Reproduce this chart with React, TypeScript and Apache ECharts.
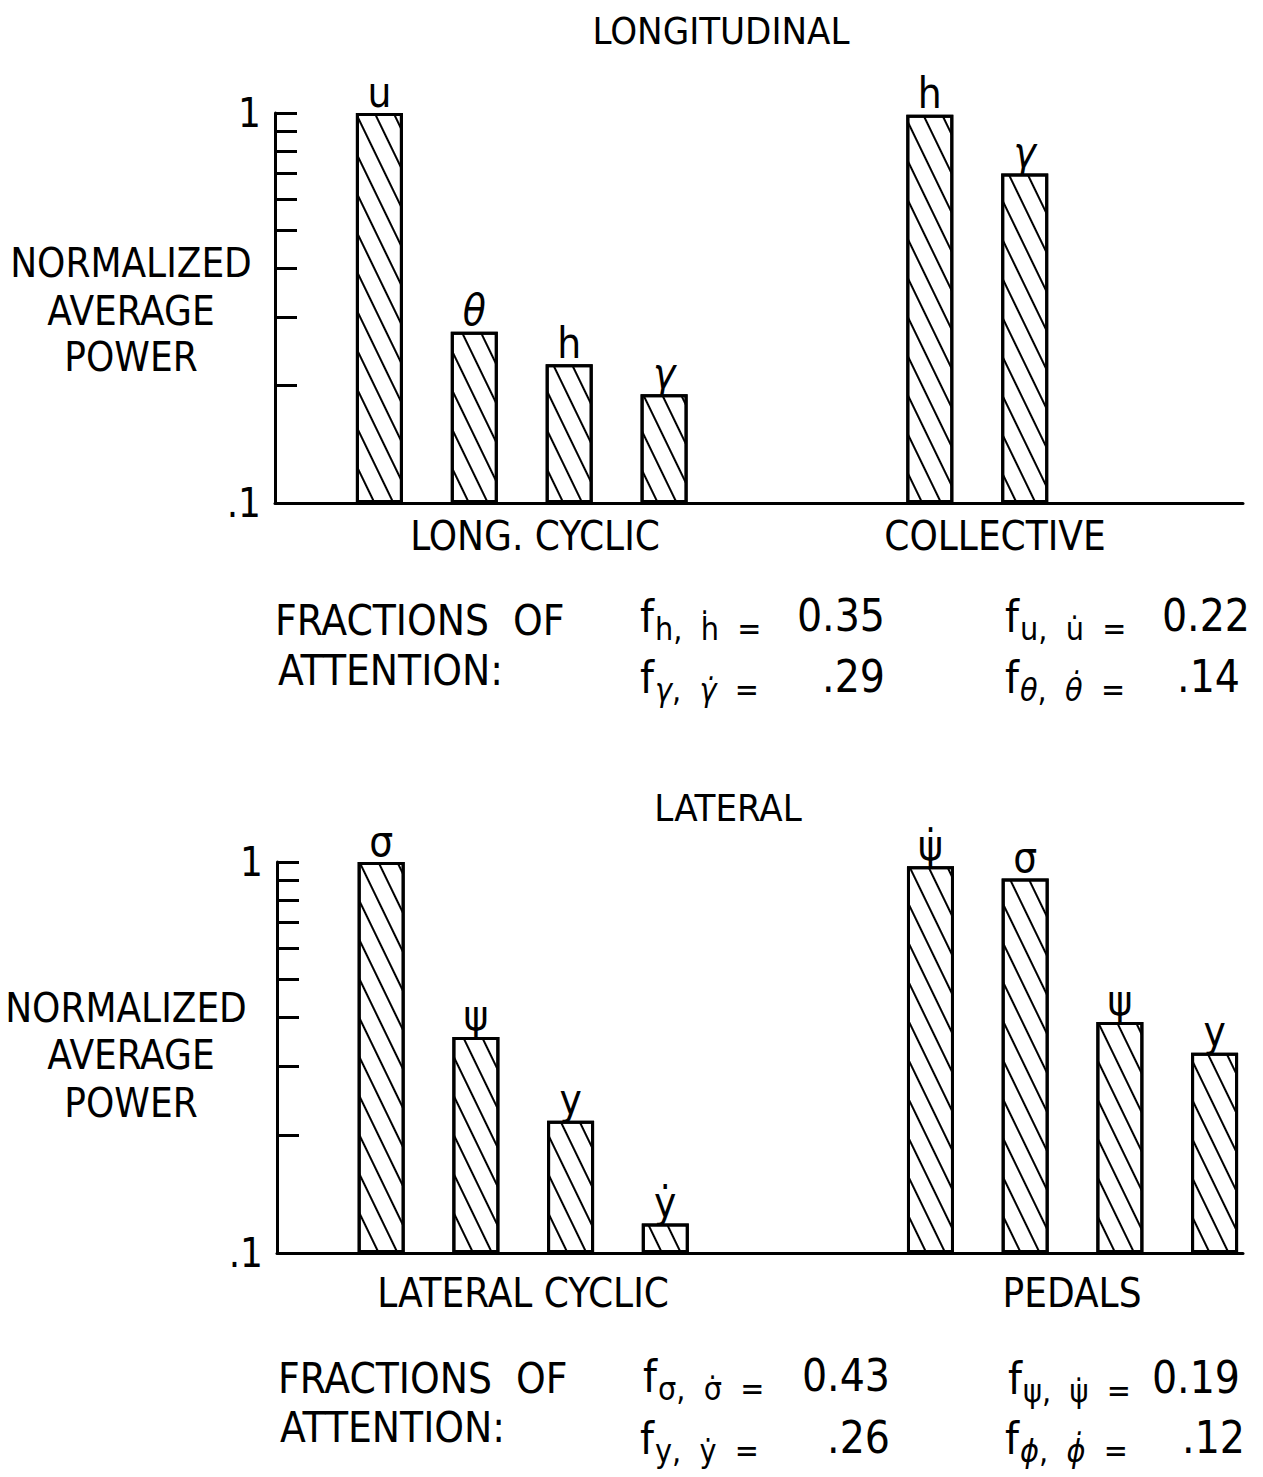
import React, { useEffect, useRef } from "react";
import * as echarts from "echarts";

const FONT = "'DejaVu Sans Condensed', 'DejaVu Sans', sans-serif";

// ---- data ----
const panelTitles = ["LONGITUDINAL", "LATERAL"];
const yAxisTitleLines = ["NORMALIZED", "AVERAGE", "POWER"];
const groupNames = [
  ["LONG. CYCLIC", "COLLECTIVE"],
  ["LATERAL CYCLIC", "PEDALS"],
];
const fractionHeading = ["FRACTIONS  OF", "ATTENTION:"];

const longCyclicVars = ["u", "θ", "h", "γ"];
const longCyclicPower = [1.0, 0.275, 0.227, 0.19];
const collectiveVars = ["h", "γ"];
const collectivePower = [0.99, 0.7];

const latCyclicVars = ["σ", "ψ", "y", "ẏ"];
const latCyclicPower = [1.0, 0.357, 0.218, 0.119];
const pedalVars = ["ψ̇", "σ", "ψ", "y"];
const pedalPower = [0.975, 0.907, 0.39, 0.325];

const yTickValues = [0.2, 0.3, 0.4, 0.5, 0.6, 0.7, 0.8, 0.9, 1];
const yLabelValues = [0.1, 1];
const yLabelTexts = [".1", "1"];

// fractions of attention: [variable, dotted variable, value]
const longFractionsLeft = [
  ["h", "ḣ", "0.35"],
  ["γ", "γ̇", ".29"],
];
const longFractionsRight = [
  ["u", "u̇", "0.22"],
  ["θ", "θ̇", ".14"],
];
const latFractionsLeft = [
  ["σ", "σ̇", "0.43"],
  ["y", "ẏ", ".26"],
];
const latFractionsRight = [
  ["ψ", "ψ̇", "0.19"],
  ["ϕ", "ϕ̇", ".12"],
];

// ---- layout ----
const SLOT_COUNT = 51;
const GROUP_START = [5, 34];
const SLOT_STEP = 5;

function buildSlots(groups: [string[], number[]][]) {
  const values: any[] = new Array(SLOT_COUNT).fill("-");
  const names: string[] = new Array(SLOT_COUNT).fill("");
  groups.forEach(([vars, vals], g) => {
    vars.forEach((n, i) => {
      const s = GROUP_START[g] + i * SLOT_STEP;
      values[s] = vals[i];
      names[s] = n;
    });
  });
  return { values, names };
}

const isGreekItalic = (s: string) => /[θγϕ]/.test(s);
const tok = (s: string) => (isGreekItalic(s) ? `{g|${s}}` : `{r|${s}}`);

function textEl(text: string, x: number, y: number, size: number, align = "center", vAlign = "middle") {
  return {
    type: "text",
    x,
    y,
    style: {
      text,
      fontSize: size,
      fontFamily: FONT,
      fill: "#000",
      align,
      verticalAlign: vAlign,
      textAlign: align,
      textVerticalAlign: vAlign,
    },
  };
}

function fracGroup(row: string[], x: number, y: number, right: number) {
  const subRich = {
    r: { fontSize: 32, fontFamily: FONT, fill: "#000", color: "#000" },
    g: { fontSize: 32, fontFamily: FONT, fontStyle: "italic", fill: "#000", color: "#000" },
  };
  return [
    textEl("f", x, y, 44, "left"),
    {
      type: "text",
      x: x + 15,
      y: y + 13,
      style: {
        text: `${tok(row[0])}{r|,  }${tok(row[1])}{r|  =}`,
        rich: subRich,
        fontFamily: FONT,
        fill: "#000",
        align: "left",
        verticalAlign: "middle",
        textAlign: "left",
        textVerticalAlign: "middle",
      },
    },
    textEl(row[2], right, y - 1, 44, "right"),
  ];
}

export default function App() {
  const ref = useRef<HTMLDivElement>(null);

  useEffect(() => {
    document.body.style.margin = "0";
    if (!ref.current) return;
    const chart = echarts.init(ref.current, undefined, { renderer: "svg" });

    const top = buildSlots([
      [longCyclicVars, longCyclicPower],
      [collectiveVars, collectivePower],
    ]);
    const bottom = buildSlots([
      [latCyclicVars, latCyclicPower],
      [pedalVars, pedalPower],
    ]);
    const slotIds = Array.from({ length: SLOT_COUNT }, (_, i) => String(i));

    const grids = [
      { left: 275, top: 113, width: 968, height: 390 },
      { left: 277, top: 862, width: 966, height: 391 },
    ];

    const xAxes = grids.map((_, i) => ({
      type: "category",
      gridIndex: i,
      data: slotIds,
      boundaryGap: true,
      axisLine: { show: true, onZero: false, lineStyle: { color: "#000", width: 3 } },
      axisTick: { show: false },
      axisLabel: { show: false },
      splitLine: { show: false },
    }));

    const yAxes = grids.map((_, i) => ({
      type: "log",
      logBase: 10,
      gridIndex: i,
      min: 0.1,
      max: 1,
      startValue: 0.1,
      axisLine: { show: true, lineStyle: { color: "#000", width: 3 } },
      axisTick: {
        show: true,
        inside: true,
        length: 22,
        customValues: yTickValues,
        lineStyle: { color: "#000", width: 3 },
      },
      minorTick: { show: false },
      axisLabel: {
        show: true,
        customValues: yLabelValues,
        formatter: (v: number) => (v < 0.5 ? yLabelTexts[0] : yLabelTexts[1]),
        fontSize: 40,
        fontFamily: FONT,
        color: "#000",
        margin: 14,
      },
      splitLine: { show: false },
    }));

    const barSeries = (idx: number, slots: { values: any[]; names: string[] }) => ({
      type: "bar",
      xAxisIndex: idx,
      yAxisIndex: idx,
      data: slots.values,
      barWidth: 47,
      itemStyle: {
        color: "#fff",
        borderColor: "#000",
        borderWidth: 3,
        decal: {
          symbol: "rect",
          symbolSize: 1,
          color: "#000",
          dashArrayX: [1, 0],
          dashArrayY: [1.4, 15],
          rotation: 1.12,
        },
      },
      label: {
        show: true,
        position: "top",
        distance: 0,
        formatter: (p: any) => {
          const n = slots.names[p.dataIndex];
          if (!n) return "";
          return tok(n);
        },
        rich: {
          r: { fontSize: 42, fontFamily: FONT, color: "#000" },
          g: { fontSize: 42, fontFamily: FONT, fontStyle: "italic", color: "#000" },
        },
      },
      emphasis: { disabled: true },
    });

    const graphics: any[] = [
      textEl(panelTitles[0], 721, 31, 38),
      textEl(panelTitles[1], 728, 808, 38),
      textEl(yAxisTitleLines[0], 131, 263, 40),
      textEl(yAxisTitleLines[1], 131, 311, 40),
      textEl(yAxisTitleLines[2], 131, 357, 40),
      textEl(yAxisTitleLines[0], 126, 1008, 40),
      textEl(yAxisTitleLines[1], 131, 1055, 40),
      textEl(yAxisTitleLines[2], 131, 1103, 40),
      textEl(groupNames[0][0], 535, 536, 40),
      textEl(groupNames[0][1], 995, 536, 40),
      textEl(groupNames[1][0], 523, 1293, 40),
      textEl(groupNames[1][1], 1072, 1293, 40),
      textEl(fractionHeading[0], 275, 620, 42, "left"),
      textEl(fractionHeading[1], 278, 670, 42, "left"),
      textEl(fractionHeading[0], 278, 1378, 42, "left"),
      textEl(fractionHeading[1], 280, 1427, 42, "left"),
      ...fracGroup(longFractionsLeft[0], 640, 616, 885),
      ...fracGroup(longFractionsLeft[1], 640, 677, 885),
      ...fracGroup(longFractionsRight[0], 1005, 616, 1250),
      ...fracGroup(longFractionsRight[1], 1005, 677, 1240),
      ...fracGroup(latFractionsLeft[0], 643, 1376, 890),
      ...fracGroup(latFractionsLeft[1], 640, 1438, 890),
      ...fracGroup(latFractionsRight[0], 1008, 1378, 1240),
      ...fracGroup(latFractionsRight[1], 1005, 1438, 1245),
    ];

    chart.setOption({
      animation: false,
      backgroundColor: "#fff",
      textStyle: { fontFamily: FONT },
      grid: grids,
      xAxis: xAxes,
      yAxis: yAxes,
      series: [barSeries(0, top), barSeries(1, bottom)],
      graphic: graphics,
    });

    return () => chart.dispose();
  }, []);

  return <div ref={ref} style={{ width: 1263, height: 1477 }} />;
}
